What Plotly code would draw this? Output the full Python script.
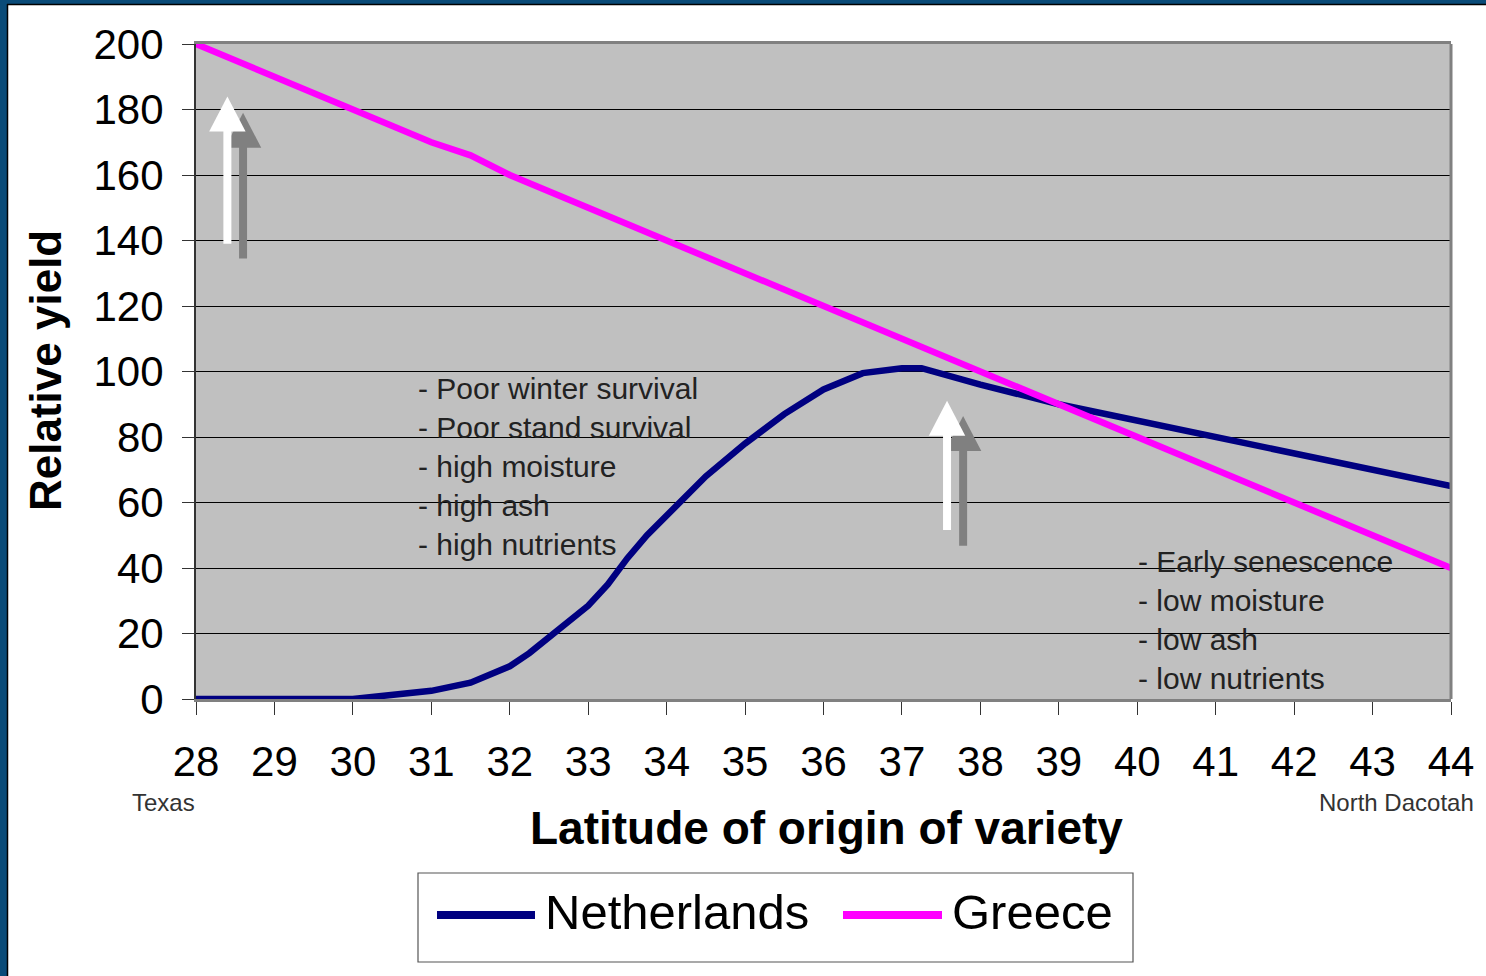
import plotly.graph_objects as go

# Yield response by latitude of origin of the variety
latitude_nl = [28, 29, 30, 31, 31.5, 32, 32.25, 33, 33.25, 33.5, 33.75, 34.5, 35,
               35.5, 36, 36.5, 37, 37.25, 38, 39, 40, 41, 42, 43, 44]
yield_nl = [0, 0, 0, 2.5, 5, 10, 14, 28.5, 35, 43, 50, 68, 78,
            87, 94.5, 99.5, 101, 101, 96, 90, 85, 80, 75, 70, 65]

latitude_gr = [28, 29, 30, 31, 31.5, 32, 33, 34, 35, 36, 37, 37.5, 38, 39, 40, 41, 42, 43, 44]
yield_gr = [200, 190, 180, 170, 166, 160, 150, 140, 130, 120, 110, 105.5, 100, 90, 80, 70, 60, 50, 40]

x_ticks = list(range(28, 45))
y_ticks = list(range(0, 201, 20))

series_names = ["Netherlands", "Greece"]
series_colors = ["#000080", "#FF00FF"]

notes_south = ["- Poor winter survival", "- Poor stand survival", "- high moisture",
               "- high ash", "- high nutrients"]
notes_north = ["- Early senescence", "- low moisture", "- low ash", "- low nutrients"]

# page geometry (pixels)
W_PAGE, H_PAGE = 1486, 976
L, R, T, B = 196, 35, 44, 277
PW, PH = W_PAGE - L - R, H_PAGE - T - B


def px2x(px):
    return (px - L) / PW


def py2y(py):
    return (T + PH - py) / PH


fig = go.Figure()
fig.add_trace(go.Scatter(x=latitude_nl, y=yield_nl, mode="lines", name=series_names[0],
                         line=dict(color=series_colors[0], width=6.5), showlegend=False))
fig.add_trace(go.Scatter(x=latitude_gr, y=yield_gr, mode="lines", name=series_names[1],
                         line=dict(color=series_colors[1], width=6.5), showlegend=False))

shapes = []

# shadowed upward arrows: (x, y_bottom, y_tip) in data units
arrows = [
    ((28.60, 134.5, 179.0), (28.40, 139.0, 184.0)),
    ((37.78, 46.8, 86.4), (37.575, 51.6, 91.1)),
]
head_h = 10.7
head_hw = 0.232
for shadow, front in arrows:
    for (ax, y0, y1), col in ((shadow, "#808080"), (front, "#FFFFFF")):
        shapes.append(dict(type="line", xref="x", yref="y", x0=ax, x1=ax,
                           y0=y0, y1=y1 - head_h + 0.5, line=dict(color=col, width=8)))
        shapes.append(dict(type="path", xref="x", yref="y",
                           path=f"M {ax - head_hw},{y1 - head_h} L {ax + head_hw},{y1 - head_h} L {ax},{y1} Z",
                           fillcolor=col, line=dict(color=col, width=0)))

# right border of the plot area
shapes.append(dict(type="line", xref="paper", yref="paper", x0=1, x1=1, y0=0, y1=1,
                   line=dict(color="#808080", width=3)))

# page frame strips
frame = "#0A4B78"
shapes.append(dict(type="rect", xref="paper", yref="paper", x0=px2x(-5), x1=px2x(7),
                   y0=py2y(H_PAGE + 5), y1=py2y(-5), fillcolor=frame, line=dict(width=0)))
shapes.append(dict(type="rect", xref="paper", yref="paper", x0=px2x(-5), x1=px2x(W_PAGE + 5),
                   y0=py2y(4), y1=py2y(-5), fillcolor=frame, line=dict(width=0)))
shapes.append(dict(type="line", xref="paper", yref="paper", x0=px2x(7.5), x1=px2x(7.5),
                   y0=py2y(H_PAGE + 5), y1=py2y(4), line=dict(color="#000000", width=1.5)))
shapes.append(dict(type="line", xref="paper", yref="paper", x0=px2x(7), x1=px2x(W_PAGE + 5),
                   y0=py2y(4.5), y1=py2y(4.5), line=dict(color="#000000", width=1.5)))

# legend box
shapes.append(dict(type="rect", xref="paper", yref="paper", x0=px2x(418), x1=px2x(1133),
                   y0=py2y(962), y1=py2y(873), fillcolor="#FFFFFF",
                   line=dict(color="#555555", width=1.2)))
legend_items = [(437, 535, 546), (843, 942, 953)]
annotations = []
for (lx0, lx1, tx), name, col in zip(legend_items, series_names, series_colors):
    shapes.append(dict(type="line", xref="paper", yref="paper", x0=px2x(lx0), x1=px2x(lx1),
                       y0=py2y(915), y1=py2y(915), line=dict(color=col, width=8)))
    annotations.append(dict(xref="paper", yref="paper", x=px2x(tx - 3), y=py2y(912),
                            xanchor="left", yanchor="middle", showarrow=False, text=name,
                            font=dict(family="Liberation Sans", size=49, color="#000000")))

note_font = dict(family="Liberation Sans", size=30, color="#222222")
annotations.append(dict(xref="paper", yref="paper", x=px2x(416), y=py2y(466),
                        xanchor="left", yanchor="middle", align="left", showarrow=False,
                        text="<br>".join(notes_south), font=note_font))
annotations.append(dict(xref="paper", yref="paper", x=px2x(1136), y=py2y(619.5),
                        xanchor="left", yanchor="middle", align="left", showarrow=False,
                        text="<br>".join(notes_north), font=note_font))

# axis titles and end labels
annotations.append(dict(xref="paper", yref="paper", x=px2x(826), y=py2y(828),
                        xanchor="center", yanchor="middle", showarrow=False,
                        text="<b>Latitude of origin of variety</b>",
                        font=dict(family="Liberation Sans", size=46, color="#000000")))
annotations.append(dict(xref="paper", yref="paper", x=px2x(45), y=py2y(371),
                        xanchor="center", yanchor="middle", showarrow=False, textangle=-90,
                        text="<b>Relative yield</b>",
                        font=dict(family="Liberation Sans", size=44, color="#000000")))
side_font = dict(family="Liberation Sans", size=24, color="#333333")
annotations.append(dict(xref="paper", yref="paper", x=px2x(197), y=py2y(802),
                        xanchor="right", yanchor="middle", showarrow=False,
                        text="Texas", font=side_font))
annotations.append(dict(xref="paper", yref="paper", x=px2x(1476), y=py2y(802),
                        xanchor="right", yanchor="middle", showarrow=False,
                        text="North Dacotah", font=side_font))

tick_font = dict(family="Liberation Sans", size=42, color="#000000")
fig.update_layout(
    width=W_PAGE, height=H_PAGE,
    margin=dict(l=L, r=R, t=T, b=B),
    paper_bgcolor="#FFFFFF",
    plot_bgcolor="#C0C0C0",
    showlegend=False,
    shapes=shapes,
    annotations=annotations,
    xaxis=dict(range=[28, 44], tickvals=x_ticks, ticktext=[str(v) for v in x_ticks],
               ticks="outside", ticklen=13, tickwidth=1, tickcolor="#333333",
               showgrid=False, zeroline=False, showline=True, linecolor="#808080",
               linewidth=3, mirror=True, tickfont=tick_font, ticklabelstandoff=11),
    yaxis=dict(range=[0, 200], tickvals=y_ticks, ticktext=[str(v) for v in y_ticks],
               ticks="outside", ticklen=12, tickwidth=1, tickcolor="#333333",
               showgrid=True, gridcolor="#000000", gridwidth=1, zeroline=False,
               showline=True, linecolor="#333333", linewidth=2, tickfont=tick_font,
               ticklabelstandoff=10),
)

fig.write_html("out.html")
